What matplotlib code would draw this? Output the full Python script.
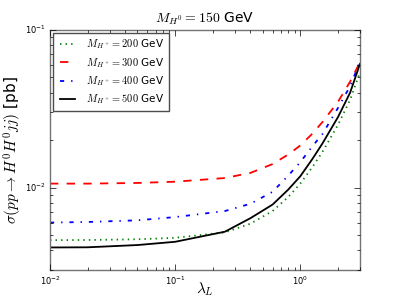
import matplotlib
matplotlib.use("Agg")
import matplotlib.pyplot as plt

plt.style.use("classic")
plt.rcParams.update({
    "figure.facecolor": "white",
    "mathtext.fontset": "cm",
    "font.family": "DejaVu Sans",
})

lam = [0.01, 0.02, 0.05, 0.1, 0.25, 0.4, 0.6, 0.8, 1.0, 1.25, 1.5, 2.0, 2.5, 3.0]
sig_200 = [0.00464, 0.00465, 0.0047, 0.0048, 0.0052, 0.0059, 0.0071, 0.0087,
           0.0106, 0.0135, 0.0168, 0.025, 0.036, 0.054]
sig_300 = [0.0106, 0.0106, 0.0107, 0.0109, 0.0115, 0.0124, 0.0141, 0.0162,
           0.0185, 0.022, 0.026, 0.035, 0.047, 0.0625]
sig_400 = [0.0060, 0.00605, 0.0062, 0.0065, 0.0071, 0.0079, 0.0094, 0.0119,
           0.0145, 0.0183, 0.0218, 0.032, 0.044, 0.063]
sig_500 = [0.00417, 0.00418, 0.00432, 0.00453, 0.00525, 0.0064, 0.0078, 0.0097,
           0.0118, 0.0152, 0.0190, 0.028, 0.040, 0.061]
masses = [200, 300, 400, 500]

fig = plt.figure(figsize=(4, 3), dpi=100)
ax = fig.add_subplot(111)

styles = [("green", ":"), ("red", "--"), ("blue", "-."), ("black", "-")]
for m, s, (c, ls) in zip(masses, [sig_200, sig_300, sig_400, sig_500], styles):
    ax.plot(lam, s, color=c, linestyle=ls, linewidth=1.3,
            label=r"$M_{H^+} = %d$ GeV" % m)

ax.set_xscale("log")
ax.set_yscale("log")
ax.set_xlim(0.01, 3)
ax.set_ylim(0.003, 0.1)
ax.set_title(r"$M_{H^0} = 150$ GeV", fontsize=10)
ax.set_xlabel(r"$\lambda_L$", fontsize=11)
ax.set_ylabel(r"$\sigma(pp \rightarrow H^0 H^0 jj)$ [pb]", fontsize=11)
ax.xaxis.set_label_coords(0.5, -0.045)
ax.yaxis.set_label_coords(-0.085, 0.5)
ax.tick_params(labelsize=6, pad=3)
for sp in ax.spines.values():
    sp.set_color("0.45")
leg = ax.legend(loc="upper left", fontsize=7.5, handlelength=2.0, borderpad=0.4,
                labelspacing=0.45, handletextpad=0.8, borderaxespad=0.3)
leg.get_frame().set_edgecolor("0.3")

fig.savefig("out.png", dpi=100, facecolor="white")
